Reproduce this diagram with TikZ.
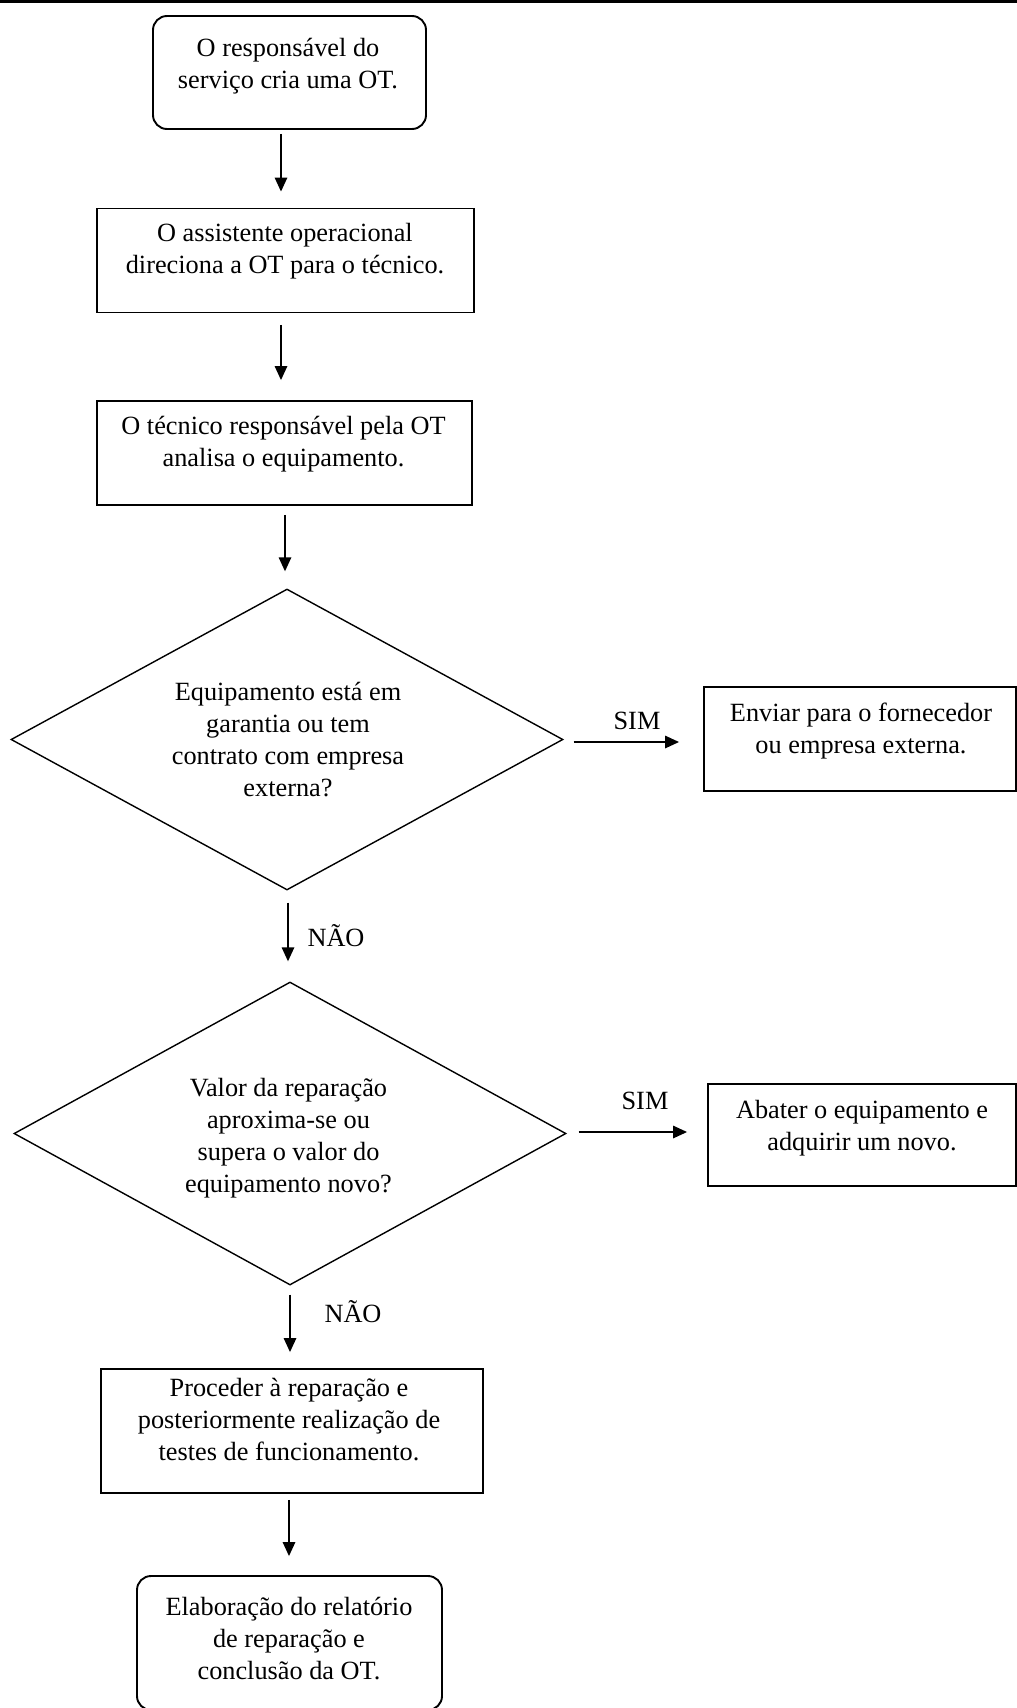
\documentclass[tikz,border=0pt]{standalone}
\usepackage{fontspec}
\setmainfont{Liberation Serif}
\usetikzlibrary{shapes.geometric,arrows.meta}
\begin{document}
\begin{tikzpicture}[x=1pt,y=-1pt,
  box/.style={draw, line width=1.9pt, inner sep=0pt},
  rbox/.style={box, rounded corners=14pt},
  dec/.style={draw, diamond, line width=1.4pt, inner sep=0pt},
  txt/.style={align=center, inner sep=0pt, font=\fontsize{26.3}{32}\selectfont},
  lbl/.style={anchor=base, inner sep=0pt, font=\fontsize{26.3}{32}\selectfont},
  arr/.style={-{Triangle[length=14pt,width=12.5pt]}, line width=1.5pt}]
\useasboundingbox (0,0) rectangle (1017,1708);
\fill[white] (0,0) rectangle (1017,1708);
\draw[line width=3pt] (0,1.5) -- (1017,1.5);

% boxes
\node[rbox, minimum width=273pt, minimum height=113pt] (start) at (289.5,72.5) {};
\node[box, minimum width=377pt, minimum height=104pt] (box2) at (285.5,260.5) {};
\node[box, minimum width=375pt, minimum height=104pt] (box3) at (284.5,453) {};
\node[dec, minimum width=552pt, minimum height=301pt] (d1) at (287,739.5) {};
\node[box, minimum width=312pt, minimum height=104pt] (env) at (860,739) {};
\node[dec, minimum width=552pt, minimum height=303pt] (d2) at (290,1133.5) {};
\node[box, minimum width=308pt, minimum height=102pt] (abat) at (862,1135) {};
\node[box, minimum width=382pt, minimum height=124pt] (proc) at (292,1431) {};
\node[rbox, minimum width=305pt, minimum height=134pt] (fim) at (289.5,1643) {};

% texts
\node[txt] (tstart) at (288,66.3) {\strut O responsável do\\\strut serviço cria uma OT.};
\node[txt] (t2) at (285,250.6) {\strut O assistente operacional\\\strut direciona a OT para o técnico.};
\node[txt] (t3) at (283.5,444.2) {\strut O técnico responsável pela OT\\\strut analisa o equipamento.};
\node[txt] (td1) at (288,741.6) {\strut Equipamento está em\\\strut garantia ou tem\\\strut contrato com empresa\\\strut externa?};
\node[txt] (tenv) at (861,731) {\strut Enviar para o fornecedor\\\strut ou empresa externa.};
\node[txt] (td2) at (288.5,1138) {\strut Valor da reparação\\\strut aproxima-se ou\\\strut supera o valor do\\\strut equipamento novo?};
\node[txt] (tab) at (862,1127.6) {\strut Abater o equipamento e\\\strut adquirir um novo.};
\node[txt] (tproc) at (289,1421.6) {\strut Proceder à reparação e\\\strut posteriormente realização de\\\strut testes de funcionamento.};
\node[txt] (tfim) at (289,1640.6) {\strut Elaboração do relatório\\\strut de reparação e\\\strut conclusão da OT.};

% labels
\node[lbl] (sim1) at (637,729) {SIM};
\node[lbl] (sim2) at (645,1109) {SIM};
\node[lbl] (nao1) at (336,946) {NÃO};
\node[lbl] (nao2) at (353,1322) {NÃO};

% connectors
\draw[arr, shorten <=4pt, shorten >=16pt] ([xshift=-8.5pt]start.south) -- ([xshift=-8.5pt]start.south |- box2.north);
\draw[arr, shorten <=11.5pt, shorten >=20pt] ([xshift=-4.5pt]box2.south) -- ([xshift=-4.5pt]box2.south |- box3.north);
\draw[arr, shorten <=9pt, shorten >=17pt] ([xshift=0.5pt]box3.south) -- ([xshift=0.5pt]box3.south |- d1.north);
\draw[arr, shorten <=10pt, shorten >=24pt] ([yshift=-2.5pt]d1.east) -- ([yshift=-2.5pt]d1.east -| env.west);
\draw[arr, shorten <=12pt, shorten >=20pt] ([xshift=1pt]d1.south) -- ([xshift=1pt]d1.south |- d2.north);
\draw[arr, shorten <=12pt, shorten >=20pt] ([yshift=1.5pt]d2.east) -- ([yshift=1.5pt]d2.east -| abat.west);
\draw[arr, shorten <=9pt, shorten >=16pt] (d2.south) -- (d2.south |- proc.north);
\draw[arr, shorten <=6pt, shorten >=19pt] ([xshift=-3pt]proc.south) -- ([xshift=-3pt]proc.south |- fim.north);
\end{tikzpicture}
\end{document}
